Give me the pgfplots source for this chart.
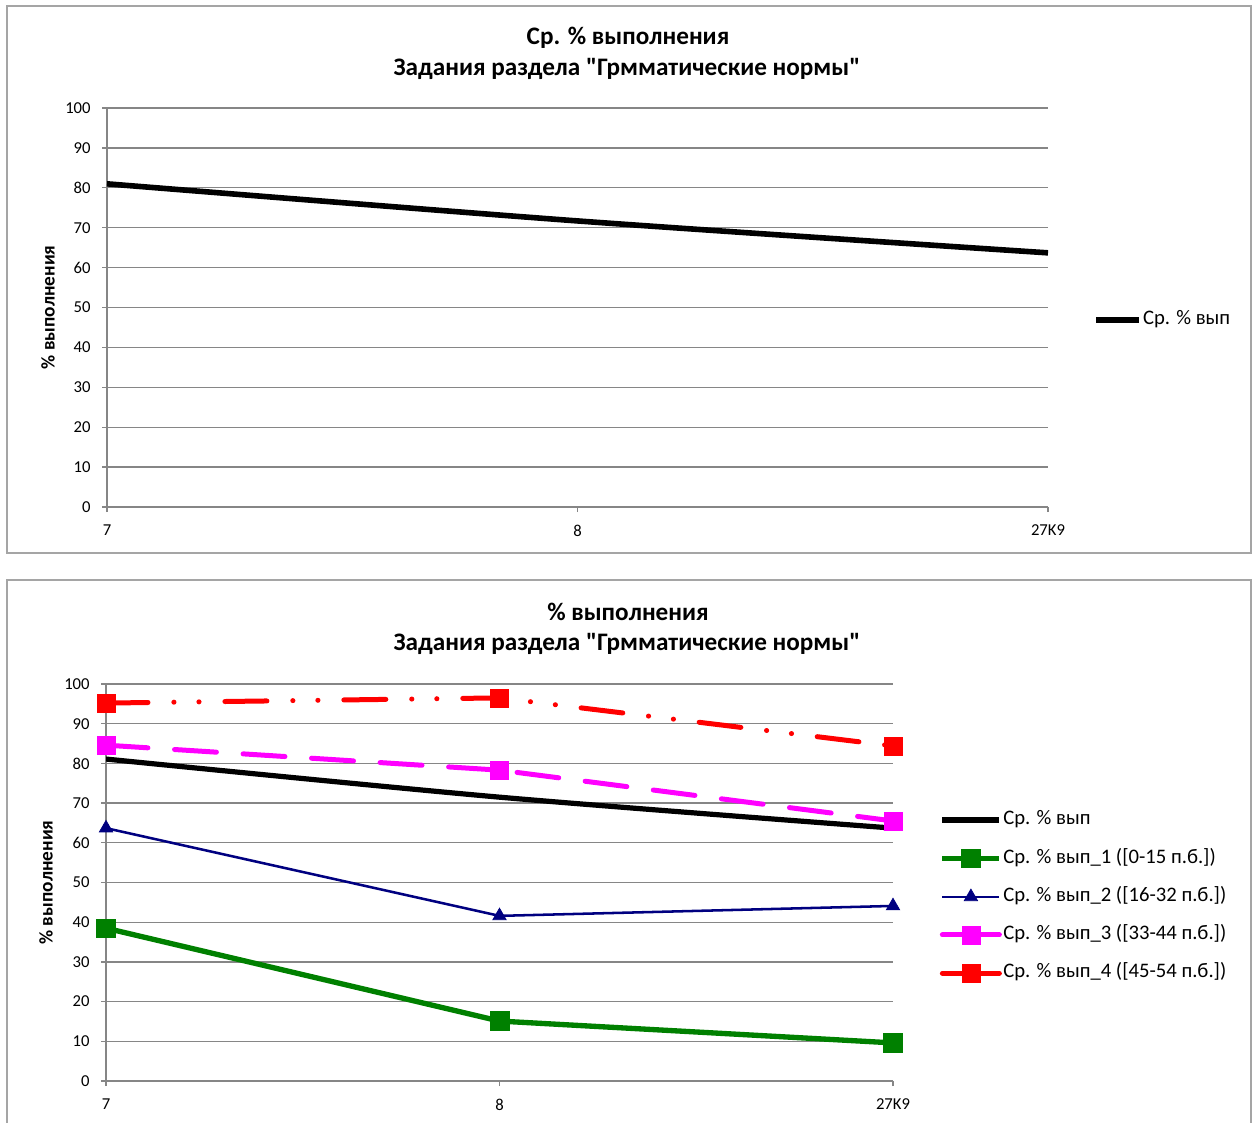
\documentclass[border=0pt]{standalone}
\usepackage{fontspec}
\setmainfont{Carlito}
\usepackage{pgfplots}
\pgfplotsset{compat=1.18}

\definecolor{gridgray}{RGB}{134,134,134}
\definecolor{framegray}{RGB}{165,165,165}
\definecolor{xlgreen}{RGB}{0,128,0}
\definecolor{xlnavy}{RGB}{0,0,128}
\definecolor{xlmagenta}{RGB}{255,0,255}
\definecolor{xlred}{RGB}{255,0,0}

\pgfplotsset{
  xlchart/.style={
    scale only axis,
    xmin=0, xmax=2, ymin=0, ymax=100,
    xtick={0,1,2}, xticklabels={7,8,27K9},
    ytick={0,10,...,100},
    ymajorgrids,
    grid style={gridgray, line width=1pt},
    axis x line=bottom, axis y line=left,
    axis line style={gridgray, line width=1.1pt, -},
    tick align=outside,
    major tick length=3.75pt,
    tick style={gridgray, line width=1pt},
    ticklabel style={font=\fontsize{12.5}{14}\selectfont},
    xticklabel style={yshift=-6pt},
    yticklabel style={xshift=-5pt},
    /pgf/number format/assume math mode=true,
    ylabel={\% выполнения},
    ylabel style={font=\fontsize{14.5}{16}\selectfont\bfseries, anchor=center},
    legend cell align=left,
    legend style={draw=none, fill=none, inner sep=0pt, row sep=15.3pt,
      font=\fontsize{15.5}{17}\selectfont,
      nodes={inner xsep=1pt, inner ysep=0pt, text height=10pt, text depth=3pt}},
  },
}

\begin{document}
\begin{tikzpicture}
\useasboundingbox (0pt,0pt) rectangle (942pt,-841.5pt);

% frames
\draw[framegray, line width=1.5pt] (5.25pt,-4.5pt) rectangle (938.25pt,-414.75pt);
\draw[framegray, line width=1.5pt] (5.25pt,-860pt) -- (5.25pt,-435pt) -- (938.25pt,-435pt) -- (938.25pt,-860pt);

% titles
\node[font=\fontsize{18.9}{22}\selectfont\bfseries] at (471pt,-28.5pt) {Ср. \% выполнения};
\node[font=\fontsize{18.9}{22}\selectfont\bfseries] at (470.25pt,-51.75pt) {Задания раздела \textquotedbl Грмматические нормы\textquotedbl};
\node[font=\fontsize{18.9}{22}\selectfont\bfseries] at (471pt,-459pt) {\% выполнения};
\node[font=\fontsize{18.9}{22}\selectfont\bfseries] at (470.25pt,-483pt) {Задания раздела \textquotedbl Грмматические нормы\textquotedbl};

% top chart
\begin{axis}[xlchart,
  at={(80.25pt,-380.25pt)}, anchor=south west,
  width=705.75pt, height=299.25pt,
  ylabel style={at={(axis description cs:-0.0627,0.5)}},
  legend style={at={(axis description cs:1.048,0.468)}, anchor=west},
  legend image code/.code={\draw[#1,solid] plot coordinates {(0pt,0pt) (32pt,0pt)};},
]
\addplot[black, line width=4.2pt, smooth] coordinates {(0,81.0) (1,71.7) (2,63.7)};
\addlegendentry{Ср. \% вып}
\end{axis}

% bottom chart
\begin{axis}[xlchart,
  at={(79.5pt,-810.75pt)}, anchor=south west,
  width=590.25pt, height=297.75pt,
  ylabel style={at={(axis description cs:-0.0762,0.5)}},
  legend style={at={(axis description cs:1.059,0.464)}, anchor=west},
  legend image code/.code={\draw[mark repeat=2,mark phase=2,#1,solid] plot coordinates {(0pt,0pt) (21.4pt,0pt) (42.75pt,0pt)};},
]
\addplot[black, line width=3.9pt, smooth] coordinates {(0,81.1) (1,71.5) (2,63.7)};
\addlegendentry{Ср. \% вып}
\addplot[xlgreen, line width=4pt, mark=square*, mark size=7pt,
  mark options={solid, line width=0.5pt}] coordinates {(0,38.5) (1,15.1) (2,9.6)};
\addlegendentry{Ср. \% вып\_1 ([0-15 п.б.])}
\addplot[xlnavy, line width=1.9pt, mark=triangle*, mark size=5.8pt,
  mark options={solid, line width=0.5pt}] coordinates {(0,63.7) (1,41.6) (2,44.1)};
\addlegendentry{Ср. \% вып\_2 ([16-32 п.б.])}
\addplot[xlmagenta, line width=3.75pt, line cap=round, dash pattern=on 31.5pt off 20pt,
  mark=square*, mark size=6.75pt, mark options={solid, line width=0.5pt}]
  coordinates {(0,84.6) (1,78.3) (2,65.5)};
\addlegendentry{Ср. \% вып\_3 ([33-44 п.б.])}
\addplot[xlred, line width=3.75pt, line cap=round,
  dash pattern=on 31.5pt off 19.4pt on 0.1pt off 18.7pt on 0.1pt off 19.4pt,
  mark=square*, mark size=6.75pt, mark options={solid, line width=0.5pt}]
  coordinates {(0,95.2) (1,96.5) (2,84.4)};
\addlegendentry{Ср. \% вып\_4 ([45-54 п.б.])}
\end{axis}
\end{tikzpicture}
\end{document}
